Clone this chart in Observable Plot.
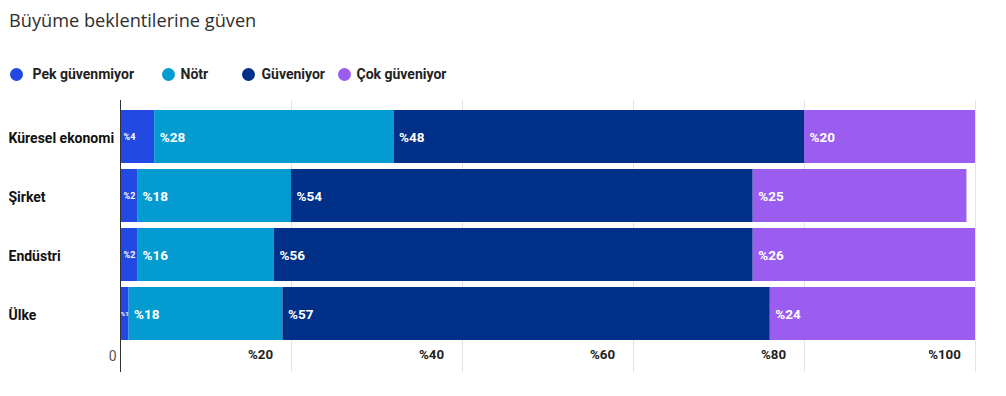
<!DOCTYPE html>
<html><head><meta charset="utf-8">
<script src="https://cdn.jsdelivr.net/npm/d3@7"></script>
<script src="https://cdn.jsdelivr.net/npm/@observablehq/plot@0.6"></script>
<style>
body{margin:0;background:#fff;font-family:Roboto,sans-serif;}
#wrap{position:relative;width:1006px;height:396px;overflow:hidden;background:#fff;}
#title{position:absolute;left:9px;top:8px;font-family:"Open Sans",sans-serif;font-size:18.2px;color:#2e2e2e;white-space:nowrap;}
.li{position:absolute;top:66px;height:16px;display:flex;align-items:center;font-family:Roboto,sans-serif;font-weight:700;font-size:14px;color:#222;white-space:nowrap;}
.dot{width:13px;height:13px;border-radius:50%;flex:none;}
#chart{position:absolute;left:0;top:0;}
</style>
</head><body>
<div id="wrap">
  <div id="title">Büyüme beklentilerine güven</div>
  <div id="legend"></div>
  <div id="chart"></div>
</div>
<script>
const categories = ["Küresel ekonomi", "Şirket", "Endüstri", "Ülke"];
const seriesNames = ["Pek güvenmiyor", "Nötr", "Güveniyor", "Çok güveniyor"];
const pekGuvenmiyor = [4, 2, 2, 1];
const notr = [28, 18, 16, 18];
const guveniyor = [48, 54, 56, 57];
const cokGuveniyor = [20, 25, 26, 24];
const tickValues = [20, 40, 60, 80, 100];
const tickLabels = ["%20", "%40", "%60", "%80", "%100"];
const colors = ["#2249e2", "#049cd0", "#003087", "#9b5cf0"];

// layout (not data)
const legendLeft = [9.5, 161.5, 241.5, 337.5];
const legendGap = [10, 6, 7, 6];

const seriesValues = [pekGuvenmiyor, notr, guveniyor, cokGuveniyor];
const data = [];
categories.forEach((c, i) => {
  seriesNames.forEach((s, j) => {
    data.push({cat: c, series: s, value: seriesValues[j][i]});
  });
});

// legend
const legend = document.getElementById("legend");
seriesNames.forEach((s, j) => {
  const item = document.createElement("div");
  item.className = "li";
  item.style.left = legendLeft[j] + "px";
  const dot = document.createElement("span");
  dot.className = "dot";
  dot.style.background = colors[j];
  dot.style.marginRight = legendGap[j] + "px";
  const lab = document.createElement("span");
  lab.textContent = s;
  item.appendChild(dot);
  item.appendChild(lab);
  legend.appendChild(item);
});

const lab = (cond) => (d) => cond(d.value) ? "%" + d.value : "";

const chart = Plot.plot({
  width: 1006,
  height: 396,
  marginLeft: 120,
  marginRight: 31,
  marginTop: 103,
  marginBottom: 48,
  style: {fontFamily: "Roboto, sans-serif", background: "transparent"},
  x: {domain: [0, 100], axis: null},
  y: {domain: categories, padding: 0.1, axis: null},
  color: {domain: seriesNames, range: colors},
  marks: [
    Plot.ruleX(tickValues, {x: d => d, stroke: "#e3e3e3", strokeWidth: 1, insetTop: -3, insetBottom: -24}),
    Plot.barX(data, Plot.stackX({x: "value", y: "cat", fill: "series", order: null})),
    Plot.text(data, Plot.stackX1({x: "value", y: "cat", z: "series", order: null, text: lab(v => v >= 10),
      fill: "white", fontWeight: 700, fontSize: 13.5, textAnchor: "start", dx: 5, dy: 1})),
    Plot.text(data, Plot.stackX1({x: "value", y: "cat", z: "series", order: null, text: lab(v => v >= 2 && v < 10),
      fill: "white", fontWeight: 700, fontSize: 9, textAnchor: "start", dx: 3, dy: 0.5})),
    Plot.text(data, Plot.stackX({x: "value", y: "cat", z: "series", order: null, text: lab(v => v < 2),
      fill: "white", fontWeight: 700, fontSize: 6, dy: 0.5})),
    Plot.ruleX([0], {x: d => d, stroke: "#333", strokeWidth: 1, insetTop: -3, insetBottom: -24}),
    Plot.text(categories, {y: d => d, text: d => d, frameAnchor: "left", textAnchor: "start", dx: -112, dy: 1.5,
      fontWeight: 700, fontSize: 14, fill: "#111"}),
    Plot.text(tickValues, {x: d => d, text: (d, i) => tickLabels[i], frameAnchor: "bottom", dy: 10, dx: -31,
      fontWeight: 700, fontSize: 13.3, fill: "#222"}),
    Plot.text([0], {x: d => d, text: ["0"], frameAnchor: "bottom", dy: 12, dx: -4, textAnchor: "end",
      fontSize: 14, fill: "#555"})
  ]
});
document.getElementById("chart").appendChild(chart);
</script>
</body></html>
